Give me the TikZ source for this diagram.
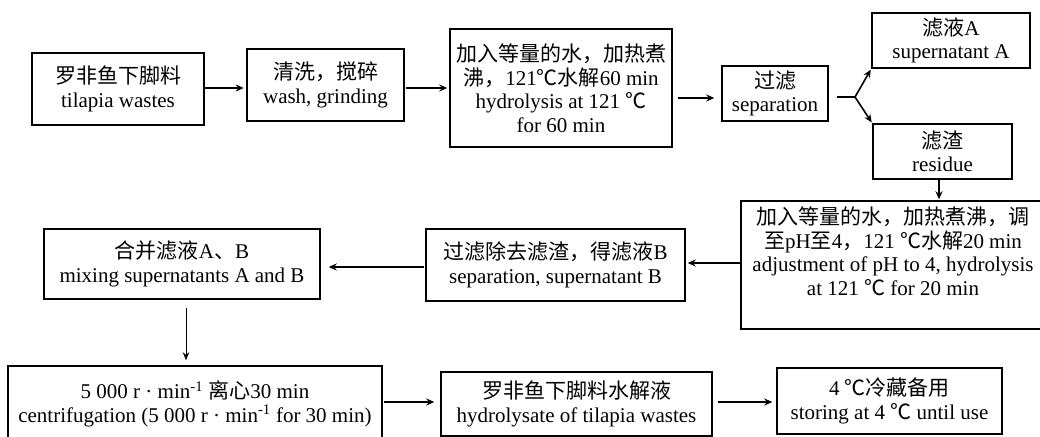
\documentclass[tikz,border=0pt]{standalone}
\usepackage{fontspec}
\setmainfont{Liberation Serif}
\newfontfamily\cjkfont{Noto Sans CJK SC}
\newcommand\zhs[1]{{\cjkfont #1}}
\usetikzlibrary{arrows.meta}
\tikzset{
  box/.style={draw=black, line width=1.5pt, inner sep=0pt, align=center, fill=white,
    font=\fontsize{21}{23.5}\selectfont},
  thickbox/.style={box, line width=2.6pt},
  arr/.style={line width=1.6pt, -{Stealth[length=8pt,width=7pt]}},
  thinarr/.style={line width=1pt, -{Stealth[length=8pt,width=6.5pt]}}
}
\begin{document}
\begin{tikzpicture}[x=1pt, y=-1pt]
\useasboundingbox (0,0) rectangle (1040,436);
\clip (0,0) rectangle (1040,436);
% boxes
\node[box, minimum width=172pt, minimum height=72pt] (n1) at (118,89)
  {\zhs{罗非鱼下脚料}\\tilapia wastes};
\node[thickbox, minimum width=157pt, minimum height=72pt] (n2) at (325.5,85)
  {\zhs{清洗，搅碎}\\wash, grinding};
\node[box, minimum width=222pt, minimum height=118pt] (n3) at (561,88)
  {\zhs{加入等量的水，加热煮}\\\zhs{沸，}121\zhs{℃水解}60 min\\hydrolysis at 121 \zhs{℃}\\for 60 min};
\node[box, minimum width=106pt, minimum height=55pt] (n4) at (775,93.5)
  {\zhs{过滤}\\separation};
\node[box, minimum width=158pt, minimum height=55pt] (n5) at (951,40.5)
  {\zhs{滤液}A\\supernatant A};
\node[box, minimum width=139pt, minimum height=55pt] (n6) at (942.5,151.5)
  {\zhs{滤渣}\\residue};
\node[box, minimum width=304pt, minimum height=128pt] (n7) at (893,265)
  {\zhs{加入等量的水，加热煮沸，调}\\\zhs{至}pH\zhs{至}4\zhs{，}121 \zhs{℃水解}20 min\\adjustment of pH to 4, hydrolysis\\at 121 \zhs{℃} for 20 min\\[4pt]};
\node[box, minimum width=259pt, minimum height=72pt] (n8) at (555.5,265)
  {\zhs{过滤除去滤渣，得滤液}B\\separation, supernatant B};
\node[box, minimum width=276pt, minimum height=70pt] (n9) at (182,264)
  {\zhs{合并滤液}A\zhs{、}B\\mixing supernatants A and B};
\node[box, minimum width=374pt, minimum height=76pt] (n10) at (195,404)
  {5 000 r · min\textsuperscript{-1} \zhs{离心}30 min\\centrifugation (5 000 r · min\textsuperscript{-1} for 30 min)};
\node[box, minimum width=271pt, minimum height=64pt] (n11) at (576.5,404)
  {\zhs{罗非鱼下脚料水解液}\\hydrolysate of tilapia wastes};
\node[box, minimum width=225pt, minimum height=66pt] (n12) at (889.5,401)
  {4 \zhs{℃冷藏备用}\\storing at 4 \zhs{℃} until use};
% connectors
\draw[arr, shorten >=2pt] ([yshift=1pt]n1.east) -- ([yshift=-3pt]n2.west);
\draw[arr, shorten <=1pt, shorten >=2pt] ([yshift=-3pt]n2.east) -- (n3.west);
\draw[arr, shorten <=5pt, shorten >=7pt] ([yshift=-10pt]n3.east) -- ([yshift=-4.5pt]n4.west);
\coordinate (br) at (855,97);
\draw[line width=1.6pt, shorten <=8pt] ([yshift=-3.5pt]n4.east) -- (br);
\draw[arr, shorten >=1pt] (br) -- (n5.south west);
\draw[arr, shorten >=1pt] (br) -- (n6.north west);
\draw[arr, shorten >=1pt] ([xshift=-3.5pt]n6.south) -- ([xshift=-3.5pt]n6.south |- n7.north);
\draw[arr, shorten >=2pt] ([yshift=2pt]n7.west) -- ([yshift=2pt]n8.east);
\draw[arr, shorten <=1pt, shorten >=8pt] ([yshift=-2pt]n8.west) -- ([yshift=-3pt]n9.east);
\coordinate (d1) at ([xshift=4pt]n9.south);
\draw[thinarr, shorten <=8pt, shorten >=5pt] (d1) -- (d1 |- n10.north);
\draw[arr, shorten <=1pt, shorten >=6pt] ([yshift=2pt]n10.east) -- ([yshift=2pt]n11.west);
\draw[arr, shorten <=5pt, shorten >=4pt] ([yshift=2pt]n11.east) -- ([yshift=-1pt]n12.west);
\end{tikzpicture}
\end{document}
